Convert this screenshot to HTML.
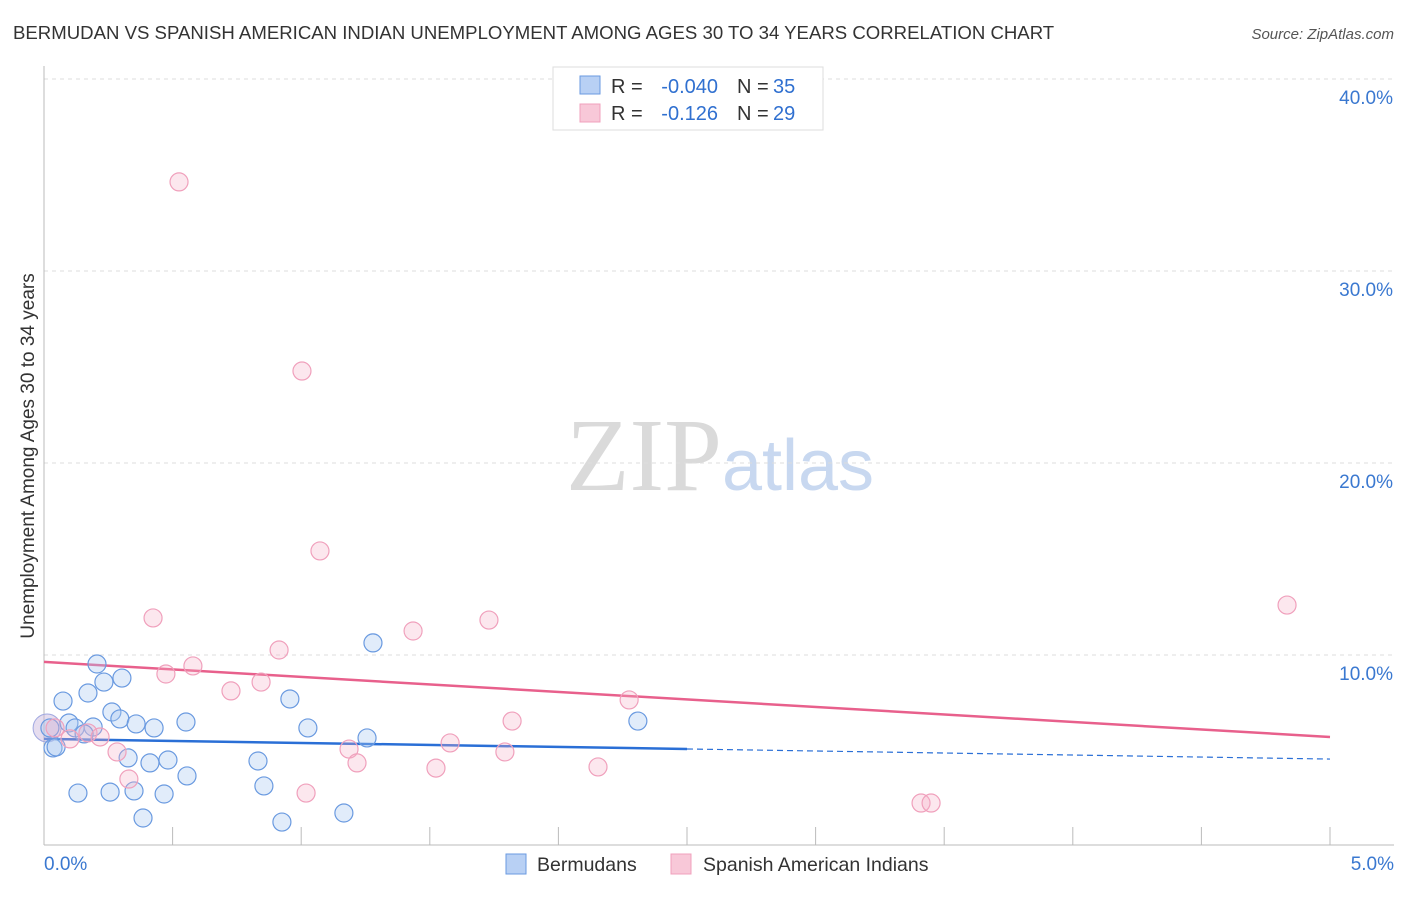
<!DOCTYPE html>
<html><head><meta charset="utf-8"><style>
body{margin:0;background:#fff;font-family:"Liberation Sans",sans-serif}
</style></head><body>
<svg id="chart" width="1406" height="892" xmlns="http://www.w3.org/2000/svg" font-family="Liberation Sans, sans-serif">
<text x="13" y="39" font-size="18.6" fill="#333">BERMUDAN VS SPANISH AMERICAN INDIAN UNEMPLOYMENT AMONG AGES 30 TO 34 YEARS CORRELATION CHART</text>
<text x="1394" y="39" font-size="15" fill="#555" text-anchor="end" font-style="italic">Source: ZipAtlas.com</text>
<text x="720" y="490" font-size="104" text-anchor="middle" font-family="Liberation Serif, serif"><tspan fill="#dadada">ZIP</tspan><tspan fill="#c8d8f0" font-family="Liberation Sans, sans-serif" font-size="72">atlas</tspan></text>
<text transform="translate(34,456) rotate(-90)" font-size="19" fill="#333" text-anchor="middle">Unemployment Among Ages 30 to 34 years</text>
<g id="grid"></g><g id="trend"></g><g id="pts"></g>
<g>
<rect x="553" y="67" width="270" height="63" fill="#fff" stroke="#ddd"/>
<rect x="580" y="76" width="20" height="18" fill="#b8d0f4" stroke="#6a9ae0"/>
<rect x="580" y="104" width="20" height="18" fill="#f8c8d8" stroke="#f0a0bc"/>
<text x="611" y="93" font-size="20" fill="#333">R =</text>
<text x="718" y="93" font-size="20" fill="#3070d0" text-anchor="end">-0.040</text>
<text x="737" y="93" font-size="20" fill="#333">N =</text>
<text x="773" y="93" font-size="20" fill="#3070d0">35</text>
<text x="611" y="120" font-size="20" fill="#333">R =</text>
<text x="718" y="120" font-size="20" fill="#3070d0" text-anchor="end">-0.126</text>
<text x="737" y="120" font-size="20" fill="#333">N =</text>
<text x="773" y="120" font-size="20" fill="#3070d0">29</text>
</g>
<g>
<rect x="506" y="854" width="20" height="20" fill="#b8d0f4" stroke="#6a9ae0"/>
<text x="537" y="871" font-size="19.5" fill="#333">Bermudans</text>
<rect x="671" y="854" width="20" height="20" fill="#f8c8d8" stroke="#f0a0bc"/>
<text x="703" y="871" font-size="19.5" fill="#333">Spanish American Indians</text>
</g>
</svg>
<script>
const blueX=[0.206,0.074,0.171,0.233,0.303,0.264,0.295,0.358,0.428,0.552,0.097,0.121,0.191,0.156,0.035,0.047,0.327,0.412,0.482,0.556,0.132,0.257,0.350,0.467,0.385,0.832,0.855,0.956,1.026,0.925,1.166,1.256,1.279,2.309,0.023];
const blueY=[9.53,7.60,8.02,8.59,8.80,7.03,6.67,6.41,6.20,6.51,6.46,6.20,6.25,5.89,5.16,5.21,4.64,4.38,4.53,3.70,2.81,2.86,2.92,2.76,1.51,4.48,3.18,7.71,6.20,1.30,1.77,5.68,10.63,6.56,6.20];
const pinkX=[0.525,1.003,1.073,0.424,1.730,1.435,0.914,0.579,0.474,0.727,0.844,2.275,1.820,4.833,0.171,0.218,0.101,0.043,0.284,0.330,1.186,1.217,1.019,1.579,1.524,1.792,2.154,3.410,3.449];
const pinkY=[34.64,24.79,15.42,11.93,11.82,11.25,10.26,9.43,9.01,8.13,8.59,7.66,6.56,12.60,5.94,5.73,5.63,6.20,4.95,3.54,5.10,4.38,2.81,5.42,4.11,4.95,4.17,2.29,2.29];
const yTicks=[10,20,30,40];
const yTickLabels=["10.0%","20.0%","30.0%","40.0%"];
const xTicks=[0.5,1,1.5,2,2.5,3,3.5,4,4.5,5];
const blueTrend=[5.63,4.58];
const pinkTrend=[9.64,5.73];
const NS="http://www.w3.org/2000/svg";
const sx=v=>44+v*257.2, sy=v=>847-v*19.2;
function mk(t,a,p){const e=document.createElementNS(NS,t);for(const k in a)e.setAttribute(k,a[k]);p.appendChild(e);return e;}
const grid=document.getElementById('grid');
yTicks.forEach((v,i)=>{
 const l=mk('line',{x1:44,x2:1394,y1:sy(v),y2:sy(v),stroke:'#ddd','stroke-dasharray':'4,4'},grid);
 
 
 const t=mk('text',{x:1393,y:sy(v)+25,'font-size':19,fill:'#3a78d0','text-anchor':'end'},grid);
 t.textContent=yTickLabels[i];
 
 
});
const ax=mk('line',{x1:44,x2:1394,y1:845,y2:845,stroke:'#bbb'},grid);


const ay=mk('line',{x1:44,x2:44,y1:66,y2:845,stroke:'#bbb'},grid);


xTicks.forEach(v=>{const l=mk('line',{x1:sx(v),x2:sx(v),y1:827,y2:845,stroke:'#bbb'},grid);
 
 });
[[0,'0.0%',44,'start'],[5,'5.0%',1394,'end']].forEach(a=>{const t=mk('text',{x:a[2],y:870,'font-size':19,fill:'#3a78d0','text-anchor':a[3]},grid);t.textContent=a[1];
 
 });
const tr=document.getElementById('trend');
const pl=mk('line',{x1:sx(0),y1:sy(pinkTrend[0]),x2:sx(5),y2:sy(pinkTrend[1]),stroke:'#e8608c','stroke-width':2.5},tr);


const bm=blueTrend[0]+(blueTrend[1]-blueTrend[0])*0.5;
const bl=mk('line',{x1:sx(0),y1:sy(blueTrend[0]),x2:sx(2.5),y2:sy(bm),stroke:'#2a6fd6','stroke-width':2.5},tr);


const bd=mk('line',{x1:sx(2.5),y1:sy(bm),x2:sx(5),y2:sy(blueTrend[1]),stroke:'#2a6fd6','stroke-width':1.2,'stroke-dasharray':'6,4'},tr);


const pts=document.getElementById('pts');
const big=mk('circle',{cx:sx(0.012),cy:sy(6.2),r:14,fill:'rgba(200,180,220,0.45)',stroke:'#a0a8e0'},pts);


blueX.forEach((x,i)=>{const c=mk('circle',{cx:sx(x),cy:sy(blueY[i]),r:9,fill:'rgba(170,200,240,0.35)',stroke:'#6a9ae0','stroke-width':1.2},pts);
 
 });
pinkX.forEach((x,i)=>{const c=mk('circle',{cx:sx(x),cy:sy(pinkY[i]),r:9,fill:'rgba(245,175,200,0.3)',stroke:'#f0a0bc','stroke-width':1.2},pts);
 
 });
</script>
</body></html>
